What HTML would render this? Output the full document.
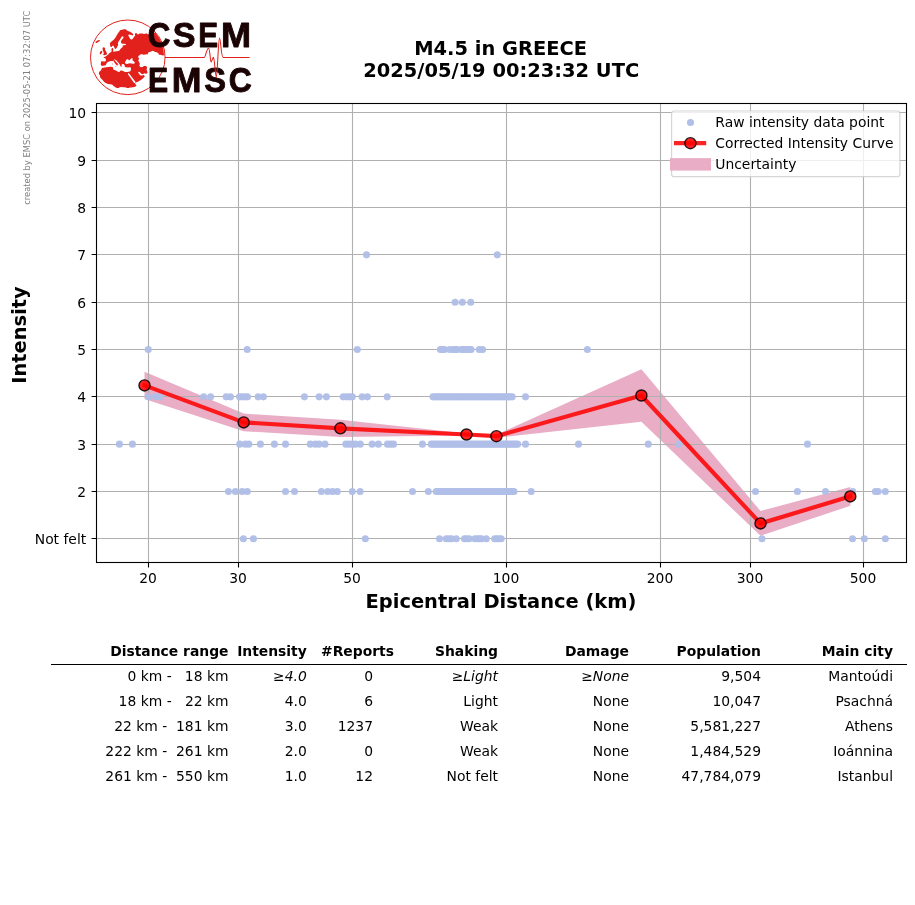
<!DOCTYPE html>
<html lang="en"><head><meta charset="utf-8"><title>M4.5 in GREECE - Intensity vs Epicentral Distance</title>
<style>
html,body{margin:0;padding:0;background:#fff}
body{width:915px;height:905px;overflow:hidden;position:relative;font-family:"DejaVu Sans","Liberation Sans",sans-serif;color:#000}
#fig{position:absolute;left:0;top:0;width:915px;height:905px;display:block;will-change:transform}
svg text{font-family:"DejaVu Sans","Liberation Sans",sans-serif}
svg .lg text{font-family:"Liberation Sans",sans-serif;font-weight:bold;font-size:34.8px}
.t10{font-size:13.89px}
.b14{font-size:19.44px;font-weight:bold}
table#summary{position:absolute;left:51px;top:639px;border-collapse:collapse;table-layout:fixed;will-change:transform;font-size:13.89px;line-height:25px;width:856px}
#summary th,#summary td{padding:0;text-align:right;white-space:pre;height:25px;font-weight:normal;overflow:visible}
#summary th{font-weight:bold;border-bottom:1.2px solid #000;height:25px}
#summary i{font-style:oblique}
#summary td.c2{padding-right:21px}
#summary tbody td{position:relative;top:-1px}
</style></head><body>
<svg id="fig" width="915" height="905" viewBox="0 0 915 905">
<g id="logo">
<clipPath id="globe"><circle cx="127.8" cy="57.3" r="37.099999999999994"/></clipPath>
<g clip-path="url(#globe)">
<path d="M120.0 30.3L122.0 29.7L124.0 29.2L125.6 29.2L126.6 30.0L127.6 31.0L129.6 31.6L131.3 32.6L132.6 33.6L133.3 34.6L132.8 35.5L131.3 35.1L129.3 34.6L128.1 35.0L128.8 36.3L129.6 37.9L130.6 39.3L131.6 39.6L132.6 38.9L133.6 37.6L134.3 36.6L135.2 35.6L134.9 34.6L135.2 33.3L136.2 33.0L136.9 33.6L137.6 34.6L138.6 34.3L139.6 33.6L140.9 33.5L142.5 33.6L143.9 34.0L145.2 33.8L146.2 33.3L147.5 34.0L148.2 34.6L155.4 32.5A37.3 37.3 0 0 1 164.1 55.5L163.3 55.3L162.2 55.4L161.1 54.8L160.0 54.9L158.9 54.5L158.1 53.1L156.7 52.3L155.3 52.0L153.4 51.1L152.3 50.7L151.2 51.5L149.6 52.0L148.2 52.6L147.6 54.6L146.5 54.2L145.2 54.5L143.4 54.7L142.3 54.2L140.8 54.3L139.7 55.0L138.5 56.0L138.0 57.3L139.2 58.3L138.4 60.0L138.6 61.3L139.6 63.0L139.9 64.3L139.3 65.3L139.6 66.3L140.9 67.3L142.6 67.1L143.9 66.1L145.6 66.1L146.9 66.8L147.1 68.0L146.5 69.3L146.9 70.6L147.6 72.4L147.0 73.4L145.9 73.7L144.9 73.2L143.6 73.7L142.6 74.3L141.6 74.1L140.6 73.1L139.6 72.1L138.6 71.8L138.1 72.4L138.9 73.6L139.9 74.9L140.9 75.6L142.2 75.4L143.6 74.9L144.9 76.2L143.9 77.6L141.6 79.6L138.9 81.2L135.9 82.5L134.9 82.9L135.5 84.2L136.5 85.2L135.8 86.2L134.5 86.9L132.9 87.2L131.2 87.6L129.9 87.4L128.6 87.9L127.2 88.1L125.9 87.6L124.6 87.2L122.9 87.2L121.3 87.1L119.6 87.2L118.6 87.9L116.9 87.9L115.3 87.2L113.6 85.9L112.0 84.6L110.0 84.2L108.0 83.9L106.9 83.5L105.6 82.9L104.3 81.9L103.3 80.9L102.6 79.9L101.6 78.9L100.6 77.9L100.0 76.9L100.0 75.6L99.3 74.6L98.8 73.6L99.0 72.6L99.5 71.6L100.3 70.9L101.1 70.3L101.3 69.3L102.0 68.4L101.4 67.0L101.6 65.6L100.8 65.1L100.8 63.5L101.0 61.9L101.3 61.2L103.3 61.4L104.9 61.6L105.8 60.9L105.9 59.6L105.6 58.6L104.3 58.1L103.3 57.4L104.3 57.1L105.6 56.6L106.9 55.6L108.3 54.6L108.9 53.6L109.6 52.9L110.6 52.3L111.5 51.9L111.5 50.6L111.5 48.7L112.2 47.9L113.1 48.3L113.3 50.3L113.3 51.9L114.9 51.5L116.5 51.2L118.2 50.9L119.5 50.5L120.2 49.2L121.2 48.2L122.2 47.6L122.8 46.6L122.5 45.6L123.0 45.4L124.0 45.2L125.6 44.9L126.1 44.3L124.6 43.7L122.7 43.8L121.3 43.2L121.0 41.9L121.3 40.6L122.3 39.3L123.3 37.9L123.6 36.9L122.7 36.3L121.6 36.7L121.2 37.6L120.2 39.3L118.9 40.9L118.2 42.3L117.9 43.6L118.2 44.9L117.5 46.2L116.9 47.6L116.2 48.6L115.2 48.9L114.6 47.9L113.9 46.6L113.1 45.6L112.2 45.9L111.6 46.9L110.6 46.9L110.1 45.2L109.9 43.6L110.6 42.3L112.2 40.9L113.9 39.6L115.2 37.9L116.2 36.3L117.2 34.6L118.2 33.0L119.5 31.3ZM95.5 41.9L97.0 40.8L99.0 39.9L100.0 40.3L99.8 41.1L98.3 42.1L96.7 43.1L95.7 42.9ZM99.8 52.5L100.9 51.0L102.1 50.7L102.3 51.9L101.6 53.3L100.5 54.4L99.8 54.0ZM102.6 47.8L103.9 47.2L105.1 48.1L105.0 49.5L105.8 50.9L106.6 52.4L107.1 54.0L106.0 54.9L103.9 55.2L103.0 54.5L103.9 53.2L103.5 51.9L102.9 50.5L102.6 49.2Z" fill="#e2211c"/>
<path d="M101.0 66.0L103.3 65.8L104.9 65.5L105.8 64.9L106.3 63.9L106.9 62.7L107.9 61.9L109.3 61.4L110.9 61.1L112.2 61.2L113.2 60.7L113.9 59.9L114.2 59.5L114.6 59.4L116.0 60.0L117.1 61.2L118.3 62.4L119.1 63.4L119.7 64.6L120.3 65.7L120.9 66.7L121.4 67.0L121.7 65.9L121.5 64.9L121.9 64.2L122.9 64.0L123.9 64.2L124.5 64.9L124.7 66.3L125.1 67.1L125.9 67.3L127.9 67.4L129.9 67.2L131.0 67.7L130.9 69.9L130.3 71.2L128.9 71.7L127.2 72.1L124.9 71.9L123.1 71.1L121.5 70.6L120.2 70.8L119.9 71.6L119.1 72.0L117.9 71.7L116.4 70.7L114.6 69.9L113.3 69.5L113.1 67.9L112.6 66.9L110.2 66.8L108.3 66.9L106.3 67.2L104.9 67.5L103.3 67.8L101.0 67.9ZM124.9 62.6L125.6 60.9L126.6 59.6L127.9 58.9L128.6 59.9L129.2 60.6L130.2 59.6L131.2 58.6L132.5 58.3L132.9 58.9L132.2 59.9L132.9 60.6L133.9 61.6L134.9 62.6L134.5 63.6L133.2 63.8L131.5 63.4L129.9 63.3L128.6 63.6L127.2 63.9L125.9 63.8L125.1 63.3ZM128.0 73.2L129.1 73.4L135.4 81.8L135.2 83.0L134.1 82.9L127.8 74.0Z" fill="#fff"/>
<path d="M113.2 60.5L113.9 59.9L114.0 59.8L115.0 60.6L116.0 61.8L116.9 62.8L117.9 63.8L118.5 64.4L117.9 64.8L117.4 64.6L117.5 65.6L117.0 65.8L116.4 64.9L115.6 64.0L114.7 63.0L113.9 61.8Z" fill="#e2211c"/>
<path d="M115.0 66.1L116.4 65.9L116.2 66.7L115.4 66.8ZM111.9 63.2L112.5 63.0L112.6 64.8L112.0 64.9Z" fill="#e2211c" fill-opacity="0.55"/>
</g>
<circle cx="127.8" cy="57.3" r="37.3" fill="none" stroke="#e2211c" stroke-width="1.0"/>
<g class="lg" fill="#1b0304" stroke="#1b0304" stroke-width="0.9" stroke-linejoin="round">
<text y="47.2"><tspan x="147.77" textLength="22.66" lengthAdjust="spacingAndGlyphs">C</tspan><tspan x="172.69" textLength="22.75" lengthAdjust="spacingAndGlyphs">S</tspan><tspan x="198.25" textLength="19.86" lengthAdjust="spacingAndGlyphs">E</tspan><tspan x="221.04" textLength="30.08" lengthAdjust="spacingAndGlyphs">M</tspan></text>
<text y="91.8"><tspan x="148.09" textLength="20.17" lengthAdjust="spacingAndGlyphs">E</tspan><tspan x="171.81" textLength="29.75" lengthAdjust="spacingAndGlyphs">M</tspan><tspan x="204.15" textLength="21.79" lengthAdjust="spacingAndGlyphs">S</tspan><tspan x="228.74" textLength="23.02" lengthAdjust="spacingAndGlyphs">C</tspan></text>
</g>
<path d="M164.9 57.4H204.3C205.6 57.4 206.6 48.2 208.5 48.2C210 48.2 210.2 61.9 211.1 61.9C212 61.9 212.8 57 213.5 57.4C214.5 58 215.4 77.1 216.3 77.1C217.4 77.1 218.3 37.9 219.5 37.9C220.8 37.9 221 57.4 223.2 57.4H249.6" fill="none" stroke="#e2211c" stroke-width="1.05" stroke-linejoin="round"/>
</g>

<text transform="translate(30.2,204.8) rotate(-90)" font-size="8.33" fill="#808080">created by EMSC on 2025-05-21 07:32:07 UTC</text>
<text class="b14" x="500.6" y="55.2" text-anchor="middle">M4.5 in GREECE</text>
<text class="b14" x="501.2" y="76.6" text-anchor="middle">2025/05/19 00:23:32 UTC</text>
<g id="plot"><polygon points="144.5,371.7 243.7,413.6 340.4,419.7 466.5,433.5 496.4,434.7 641.4,369.3 760.5,511.0 850.3,487.0 850.3,505.8 760.5,535.8 641.4,421.7 496.4,437.7 466.5,435.5 340.4,436.9 243.7,431.2 144.5,399.1" fill="#e9adc6"/>
<path d="M148.5 103.5V562.5M238.5 103.5V562.5M352.5 103.5V562.5M506.5 103.5V562.5M660.5 103.5V562.5M750.5 103.5V562.5M863.5 103.5V562.5M96.5 538.5H906.5M96.5 491.5H906.5M96.5 444.5H906.5M96.5 396.5H906.5M96.5 349.5H906.5M96.5 302.5H906.5M96.5 254.5H906.5M96.5 207.5H906.5M96.5 160.5H906.5M96.5 112.5H906.5" stroke="#b0b0b0" stroke-width="1.1" fill="none"/>
<g fill="#b0bee8" fill-opacity="0.96">
<circle cx="243.4" cy="538.79" r="3.55"/><circle cx="253.4" cy="538.79" r="3.55"/><circle cx="365.3" cy="538.79" r="3.55"/><circle cx="439.5" cy="538.79" r="3.55"/><circle cx="446.2" cy="538.79" r="3.55"/><circle cx="448.8" cy="538.79" r="3.55"/><circle cx="451.4" cy="538.79" r="3.55"/><circle cx="456.3" cy="538.79" r="3.55"/><circle cx="464.4" cy="538.79" r="3.55"/><circle cx="466.5" cy="538.79" r="3.55"/><circle cx="469.2" cy="538.79" r="3.55"/><circle cx="474.9" cy="538.79" r="3.55"/><circle cx="477.5" cy="538.79" r="3.55"/><circle cx="479.5" cy="538.79" r="3.55"/><circle cx="481.5" cy="538.79" r="3.55"/><circle cx="486.3" cy="538.79" r="3.55"/><circle cx="494.6" cy="538.79" r="3.55"/><circle cx="497.0" cy="538.79" r="3.55"/><circle cx="499.0" cy="538.79" r="3.55"/><circle cx="501.2" cy="538.79" r="3.55"/><circle cx="762.0" cy="538.79" r="3.55"/><circle cx="852.5" cy="538.79" r="3.55"/><circle cx="864.3" cy="538.79" r="3.55"/><circle cx="885.3" cy="538.79" r="3.55"/>
<circle cx="228.4" cy="491.47" r="3.55"/><circle cx="235.4" cy="491.47" r="3.55"/><circle cx="242.2" cy="491.47" r="3.55"/><circle cx="247.3" cy="491.47" r="3.55"/><circle cx="285.5" cy="491.47" r="3.55"/><circle cx="294.5" cy="491.47" r="3.55"/><circle cx="321.4" cy="491.47" r="3.55"/><circle cx="327.7" cy="491.47" r="3.55"/><circle cx="332.5" cy="491.47" r="3.55"/><circle cx="337.3" cy="491.47" r="3.55"/><circle cx="352.3" cy="491.47" r="3.55"/><circle cx="360.1" cy="491.47" r="3.55"/><circle cx="412.5" cy="491.47" r="3.55"/><circle cx="428.3" cy="491.47" r="3.55"/><circle cx="436.2" cy="491.47" r="3.55"/><circle cx="438.2" cy="491.47" r="3.55"/><circle cx="440.2" cy="491.47" r="3.55"/><circle cx="442.2" cy="491.47" r="3.55"/><circle cx="444.2" cy="491.47" r="3.55"/><circle cx="446.2" cy="491.47" r="3.55"/><circle cx="448.2" cy="491.47" r="3.55"/><circle cx="450.2" cy="491.47" r="3.55"/><circle cx="452.2" cy="491.47" r="3.55"/><circle cx="454.2" cy="491.47" r="3.55"/><circle cx="456.1" cy="491.47" r="3.55"/><circle cx="458.1" cy="491.47" r="3.55"/><circle cx="460.1" cy="491.47" r="3.55"/><circle cx="462.1" cy="491.47" r="3.55"/><circle cx="464.1" cy="491.47" r="3.55"/><circle cx="466.1" cy="491.47" r="3.55"/><circle cx="468.1" cy="491.47" r="3.55"/><circle cx="470.1" cy="491.47" r="3.55"/><circle cx="472.1" cy="491.47" r="3.55"/><circle cx="474.1" cy="491.47" r="3.55"/><circle cx="476.1" cy="491.47" r="3.55"/><circle cx="478.1" cy="491.47" r="3.55"/><circle cx="480.1" cy="491.47" r="3.55"/><circle cx="482.1" cy="491.47" r="3.55"/><circle cx="484.1" cy="491.47" r="3.55"/><circle cx="486.1" cy="491.47" r="3.55"/><circle cx="488.1" cy="491.47" r="3.55"/><circle cx="490.1" cy="491.47" r="3.55"/><circle cx="492.1" cy="491.47" r="3.55"/><circle cx="494.1" cy="491.47" r="3.55"/><circle cx="496.0" cy="491.47" r="3.55"/><circle cx="498.0" cy="491.47" r="3.55"/><circle cx="500.0" cy="491.47" r="3.55"/><circle cx="502.0" cy="491.47" r="3.55"/><circle cx="504.0" cy="491.47" r="3.55"/><circle cx="506.0" cy="491.47" r="3.55"/><circle cx="508.0" cy="491.47" r="3.55"/><circle cx="510.0" cy="491.47" r="3.55"/><circle cx="512.0" cy="491.47" r="3.55"/><circle cx="514.0" cy="491.47" r="3.55"/><circle cx="531.2" cy="491.47" r="3.55"/><circle cx="755.5" cy="491.47" r="3.55"/><circle cx="797.4" cy="491.47" r="3.55"/><circle cx="825.5" cy="491.47" r="3.55"/><circle cx="852.8" cy="491.47" r="3.55"/><circle cx="875.4" cy="491.47" r="3.55"/><circle cx="878.1" cy="491.47" r="3.55"/><circle cx="885.3" cy="491.47" r="3.55"/>
<circle cx="119.4" cy="444.15" r="3.55"/><circle cx="132.4" cy="444.15" r="3.55"/><circle cx="239.7" cy="444.15" r="3.55"/><circle cx="245.3" cy="444.15" r="3.55"/><circle cx="248.8" cy="444.15" r="3.55"/><circle cx="260.4" cy="444.15" r="3.55"/><circle cx="274.4" cy="444.15" r="3.55"/><circle cx="285.5" cy="444.15" r="3.55"/><circle cx="310.3" cy="444.15" r="3.55"/><circle cx="315.3" cy="444.15" r="3.55"/><circle cx="319.0" cy="444.15" r="3.55"/><circle cx="325.0" cy="444.15" r="3.55"/><circle cx="345.8" cy="444.15" r="3.55"/><circle cx="349.0" cy="444.15" r="3.55"/><circle cx="352.3" cy="444.15" r="3.55"/><circle cx="355.5" cy="444.15" r="3.55"/><circle cx="360.3" cy="444.15" r="3.55"/><circle cx="372.1" cy="444.15" r="3.55"/><circle cx="378.4" cy="444.15" r="3.55"/><circle cx="387.5" cy="444.15" r="3.55"/><circle cx="390.5" cy="444.15" r="3.55"/><circle cx="393.5" cy="444.15" r="3.55"/><circle cx="422.4" cy="444.15" r="3.55"/><circle cx="431.2" cy="444.15" r="3.55"/><circle cx="433.2" cy="444.15" r="3.55"/><circle cx="435.2" cy="444.15" r="3.55"/><circle cx="437.2" cy="444.15" r="3.55"/><circle cx="439.2" cy="444.15" r="3.55"/><circle cx="441.2" cy="444.15" r="3.55"/><circle cx="443.3" cy="444.15" r="3.55"/><circle cx="445.3" cy="444.15" r="3.55"/><circle cx="447.3" cy="444.15" r="3.55"/><circle cx="449.3" cy="444.15" r="3.55"/><circle cx="451.3" cy="444.15" r="3.55"/><circle cx="453.3" cy="444.15" r="3.55"/><circle cx="455.3" cy="444.15" r="3.55"/><circle cx="457.3" cy="444.15" r="3.55"/><circle cx="459.3" cy="444.15" r="3.55"/><circle cx="461.3" cy="444.15" r="3.55"/><circle cx="463.3" cy="444.15" r="3.55"/><circle cx="465.4" cy="444.15" r="3.55"/><circle cx="467.4" cy="444.15" r="3.55"/><circle cx="469.4" cy="444.15" r="3.55"/><circle cx="471.4" cy="444.15" r="3.55"/><circle cx="473.4" cy="444.15" r="3.55"/><circle cx="475.4" cy="444.15" r="3.55"/><circle cx="477.4" cy="444.15" r="3.55"/><circle cx="479.4" cy="444.15" r="3.55"/><circle cx="481.4" cy="444.15" r="3.55"/><circle cx="483.4" cy="444.15" r="3.55"/><circle cx="485.5" cy="444.15" r="3.55"/><circle cx="487.5" cy="444.15" r="3.55"/><circle cx="489.5" cy="444.15" r="3.55"/><circle cx="491.5" cy="444.15" r="3.55"/><circle cx="493.5" cy="444.15" r="3.55"/><circle cx="495.5" cy="444.15" r="3.55"/><circle cx="497.5" cy="444.15" r="3.55"/><circle cx="499.5" cy="444.15" r="3.55"/><circle cx="501.5" cy="444.15" r="3.55"/><circle cx="503.5" cy="444.15" r="3.55"/><circle cx="505.5" cy="444.15" r="3.55"/><circle cx="507.6" cy="444.15" r="3.55"/><circle cx="509.6" cy="444.15" r="3.55"/><circle cx="511.6" cy="444.15" r="3.55"/><circle cx="513.6" cy="444.15" r="3.55"/><circle cx="515.6" cy="444.15" r="3.55"/><circle cx="517.6" cy="444.15" r="3.55"/><circle cx="525.5" cy="444.15" r="3.55"/><circle cx="578.5" cy="444.15" r="3.55"/><circle cx="648.3" cy="444.15" r="3.55"/><circle cx="678.5" cy="444.15" r="3.55"/><circle cx="807.5" cy="444.15" r="3.55"/>
<circle cx="148.5" cy="396.83" r="3.55"/><circle cx="155.6" cy="396.83" r="3.55"/><circle cx="160.3" cy="396.83" r="3.55"/><circle cx="203.6" cy="396.83" r="3.55"/><circle cx="210.6" cy="396.83" r="3.55"/><circle cx="226.2" cy="396.83" r="3.55"/><circle cx="230.5" cy="396.83" r="3.55"/><circle cx="239.5" cy="396.83" r="3.55"/><circle cx="242.0" cy="396.83" r="3.55"/><circle cx="245.0" cy="396.83" r="3.55"/><circle cx="247.5" cy="396.83" r="3.55"/><circle cx="258.1" cy="396.83" r="3.55"/><circle cx="263.4" cy="396.83" r="3.55"/><circle cx="304.4" cy="396.83" r="3.55"/><circle cx="319.1" cy="396.83" r="3.55"/><circle cx="326.4" cy="396.83" r="3.55"/><circle cx="343.2" cy="396.83" r="3.55"/><circle cx="346.5" cy="396.83" r="3.55"/><circle cx="349.5" cy="396.83" r="3.55"/><circle cx="352.3" cy="396.83" r="3.55"/><circle cx="362.1" cy="396.83" r="3.55"/><circle cx="367.4" cy="396.83" r="3.55"/><circle cx="387.2" cy="396.83" r="3.55"/><circle cx="433.0" cy="396.83" r="3.55"/><circle cx="435.0" cy="396.83" r="3.55"/><circle cx="437.0" cy="396.83" r="3.55"/><circle cx="438.9" cy="396.83" r="3.55"/><circle cx="440.9" cy="396.83" r="3.55"/><circle cx="442.9" cy="396.83" r="3.55"/><circle cx="444.9" cy="396.83" r="3.55"/><circle cx="446.9" cy="396.83" r="3.55"/><circle cx="448.8" cy="396.83" r="3.55"/><circle cx="450.8" cy="396.83" r="3.55"/><circle cx="452.8" cy="396.83" r="3.55"/><circle cx="454.8" cy="396.83" r="3.55"/><circle cx="456.8" cy="396.83" r="3.55"/><circle cx="458.7" cy="396.83" r="3.55"/><circle cx="460.7" cy="396.83" r="3.55"/><circle cx="462.7" cy="396.83" r="3.55"/><circle cx="464.7" cy="396.83" r="3.55"/><circle cx="466.7" cy="396.83" r="3.55"/><circle cx="468.6" cy="396.83" r="3.55"/><circle cx="470.6" cy="396.83" r="3.55"/><circle cx="472.6" cy="396.83" r="3.55"/><circle cx="474.6" cy="396.83" r="3.55"/><circle cx="476.6" cy="396.83" r="3.55"/><circle cx="478.5" cy="396.83" r="3.55"/><circle cx="480.5" cy="396.83" r="3.55"/><circle cx="482.5" cy="396.83" r="3.55"/><circle cx="484.5" cy="396.83" r="3.55"/><circle cx="486.5" cy="396.83" r="3.55"/><circle cx="488.4" cy="396.83" r="3.55"/><circle cx="490.4" cy="396.83" r="3.55"/><circle cx="492.4" cy="396.83" r="3.55"/><circle cx="494.4" cy="396.83" r="3.55"/><circle cx="496.4" cy="396.83" r="3.55"/><circle cx="498.3" cy="396.83" r="3.55"/><circle cx="500.3" cy="396.83" r="3.55"/><circle cx="502.3" cy="396.83" r="3.55"/><circle cx="504.3" cy="396.83" r="3.55"/><circle cx="506.3" cy="396.83" r="3.55"/><circle cx="508.2" cy="396.83" r="3.55"/><circle cx="510.2" cy="396.83" r="3.55"/><circle cx="512.2" cy="396.83" r="3.55"/><circle cx="525.5" cy="396.83" r="3.55"/>
<circle cx="148.3" cy="349.51" r="3.55"/><circle cx="247.2" cy="349.51" r="3.55"/><circle cx="357.3" cy="349.51" r="3.55"/><circle cx="440.4" cy="349.51" r="3.55"/><circle cx="442.5" cy="349.51" r="3.55"/><circle cx="444.5" cy="349.51" r="3.55"/><circle cx="449.8" cy="349.51" r="3.55"/><circle cx="453.6" cy="349.51" r="3.55"/><circle cx="455.5" cy="349.51" r="3.55"/><circle cx="457.0" cy="349.51" r="3.55"/><circle cx="461.5" cy="349.51" r="3.55"/><circle cx="463.5" cy="349.51" r="3.55"/><circle cx="465.5" cy="349.51" r="3.55"/><circle cx="467.5" cy="349.51" r="3.55"/><circle cx="469.5" cy="349.51" r="3.55"/><circle cx="471.1" cy="349.51" r="3.55"/><circle cx="479.3" cy="349.51" r="3.55"/><circle cx="482.6" cy="349.51" r="3.55"/><circle cx="587.4" cy="349.51" r="3.55"/>
<circle cx="455.1" cy="302.19" r="3.55"/><circle cx="462.4" cy="302.19" r="3.55"/><circle cx="470.7" cy="302.19" r="3.55"/>
<circle cx="366.5" cy="254.87" r="3.55"/><circle cx="497.3" cy="254.87" r="3.55"/>
</g>
<polyline points="144.5,385.4 243.7,422.4 340.4,428.3 466.5,434.5 496.4,436.2 641.4,395.5 760.5,523.4 850.3,496.4" fill="none" stroke="#ff0000" stroke-opacity="0.86" stroke-width="4.17" stroke-linejoin="round" stroke-linecap="square"/>
<g fill="#ff0000" fill-opacity="0.86" stroke="#000" stroke-opacity="0.86" stroke-width="1.39"><circle cx="144.5" cy="385.4" r="5.55"/><circle cx="243.7" cy="422.4" r="5.55"/><circle cx="340.4" cy="428.3" r="5.55"/><circle cx="466.5" cy="434.5" r="5.55"/><circle cx="496.4" cy="436.2" r="5.55"/><circle cx="641.4" cy="395.5" r="5.55"/><circle cx="760.5" cy="523.4" r="5.55"/><circle cx="850.3" cy="496.4" r="5.55"/></g>
<rect x="96.5" y="103.5" width="810.0" height="459.0" fill="none" stroke="#000" stroke-width="1.1"/>
<path d="M148.5 562.5v4.9M238.5 562.5v4.9M352.5 562.5v4.9M506.5 562.5v4.9M660.5 562.5v4.9M750.5 562.5v4.9M863.5 562.5v4.9M96.5 538.5h-4.9M96.5 491.5h-4.9M96.5 444.5h-4.9M96.5 396.5h-4.9M96.5 349.5h-4.9M96.5 302.5h-4.9M96.5 254.5h-4.9M96.5 207.5h-4.9M96.5 160.5h-4.9M96.5 112.5h-4.9" stroke="#000" stroke-width="1.1" fill="none"/>
<g class="t10">
<text x="148.0" y="582.8" text-anchor="middle">20</text>
<text x="238.0" y="582.8" text-anchor="middle">30</text>
<text x="352.0" y="582.8" text-anchor="middle">50</text>
<text x="506.0" y="582.8" text-anchor="middle">100</text>
<text x="660.0" y="582.8" text-anchor="middle">200</text>
<text x="750.0" y="582.8" text-anchor="middle">300</text>
<text x="863.0" y="582.8" text-anchor="middle">500</text>
<text x="86.2" y="543.8" text-anchor="end">Not felt</text>
<text x="86.2" y="496.8" text-anchor="end">2</text>
<text x="86.2" y="449.8" text-anchor="end">3</text>
<text x="86.2" y="401.8" text-anchor="end">4</text>
<text x="86.2" y="354.8" text-anchor="end">5</text>
<text x="86.2" y="307.8" text-anchor="end">6</text>
<text x="86.2" y="259.8" text-anchor="end">7</text>
<text x="86.2" y="212.8" text-anchor="end">8</text>
<text x="86.2" y="165.8" text-anchor="end">9</text>
<text x="86.2" y="117.8" text-anchor="end">10</text>
</g>
<text class="b14" x="501" y="607.5" text-anchor="middle">Epicentral Distance (km)</text>
<text class="b14" transform="translate(26.3,335) rotate(-90)" text-anchor="middle">Intensity</text>
<g id="legend"><rect x="671.6" y="111" width="228.3" height="65.7" rx="2.8" fill="#fff" fill-opacity="0.8" stroke="#ccc" stroke-opacity="0.8" stroke-width="1.2"/>
<circle cx="690.5" cy="122.5" r="3.55" fill="#b0bee8"/>
<path d="M674 143.2H706.2" stroke="#ff0000" stroke-opacity="0.86" stroke-width="4.17"/><circle cx="690.4" cy="143.2" r="5.55" fill="#ff0000" fill-opacity="0.86" stroke="#000" stroke-opacity="0.86" stroke-width="1.39"/>
<rect x="670" y="158.1" width="41" height="12.5" fill="#e9adc6"/>
<g class="t10"><text x="715.3" y="126.8">Raw intensity data point</text><text x="715.3" y="147.8">Corrected Intensity Curve</text><text x="715.3" y="168.8">Uncertainty</text></g></g>
</g></svg>
<table id="summary"><colgroup><col style="width:177.5px"><col style="width:78.3px"><col style="width:87.2px"><col style="width:104px"><col style="width:131px"><col style="width:132px"><col style="width:132px"><col></colgroup>
<thead><tr><th>Distance range</th><th>Intensity</th><th>#Reports</th><th>Shaking</th><th>Damage</th><th>Population</th><th>Main city</th><th></th></tr></thead><tbody>
<tr><td class="c0">  0 km -   18 km</td><td class="c1"><i>≥4.0</i></td><td class="c2">0</td><td class="c3"><i>≥Light</i></td><td class="c4"><i>≥None</i></td><td class="c5">9,504</td><td class="c6">Mantoúdi</td><td></td></tr>
<tr><td class="c0"> 18 km -   22 km</td><td class="c1">4.0</td><td class="c2">6</td><td class="c3">Light</td><td class="c4">None</td><td class="c5">10,047</td><td class="c6">Psachná</td><td></td></tr>
<tr><td class="c0"> 22 km -  181 km</td><td class="c1">3.0</td><td class="c2">1237</td><td class="c3">Weak</td><td class="c4">None</td><td class="c5">5,581,227</td><td class="c6">Athens</td><td></td></tr>
<tr><td class="c0">222 km -  261 km</td><td class="c1">2.0</td><td class="c2">0</td><td class="c3">Weak</td><td class="c4">None</td><td class="c5">1,484,529</td><td class="c6">Ioánnina</td><td></td></tr>
<tr><td class="c0">261 km -  550 km</td><td class="c1">1.0</td><td class="c2">12</td><td class="c3">Not felt</td><td class="c4">None</td><td class="c5">47,784,079</td><td class="c6">Istanbul</td><td></td></tr>
</tbody></table>
</body></html>
